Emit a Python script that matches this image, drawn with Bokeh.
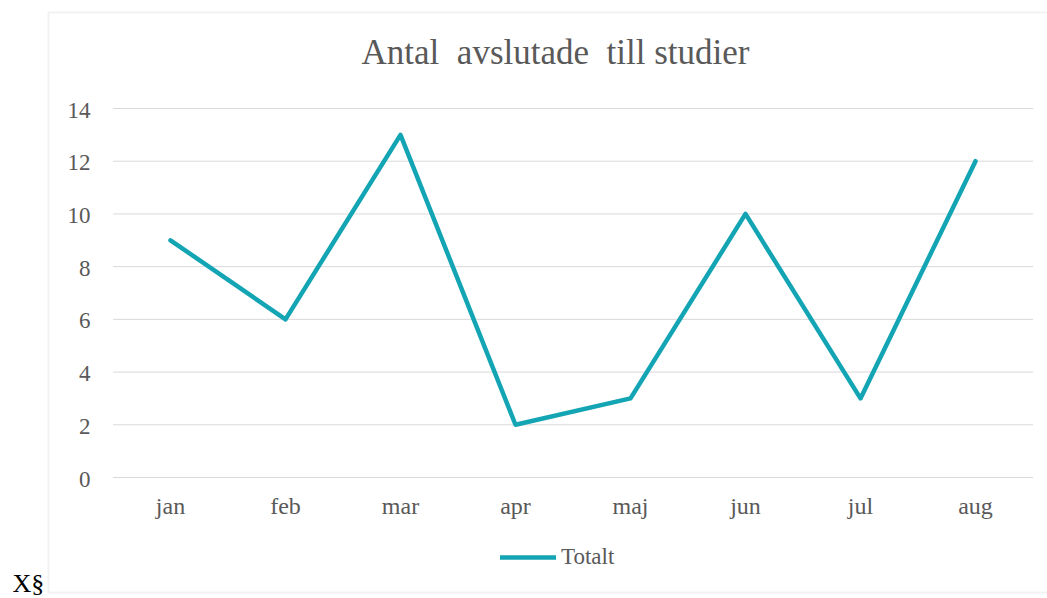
from bokeh.plotting import figure
from bokeh.models import Range1d, Legend, LegendItem, Label, BoxAnnotation, ColumnDataSource
from bokeh.core.properties import value
from bokeh.embed import file_html
from bokeh.resources import INLINE

months = ["jan", "feb", "mar", "apr", "maj", "jun", "jul", "aug"]
totalt = [9, 6, 13, 2, 3, 10, 3, 12]
y_ticks = [0, 2, 4, 6, 8, 10, 12, 14]
title_text = "Antal\u00a0 avslutade\u00a0 till studier"
series_name = "Totalt"
corner_text = "X§"

FONT = "Liberation Serif"
GREY = "#595959"
TEAL = "#14A5B5"
GRID = "#d9d9d9"
BORDER = "#d4d4d4"

W, H = 1047, 598
# frame fills the canvas; ranges chosen so the plot area sits where the reference has it
x_px_per_cat = 115.0
plot_left_px = 112.5
y_px_per_unit = (477 - 108) / 14.0
y0_px = 477.0
x_start = -plot_left_px / x_px_per_cat
x_end = x_start + W / x_px_per_cat
y_end = y0_px / y_px_per_unit
y_start = -(H - y0_px) / y_px_per_unit

p = figure(width=W, height=H, x_range=Range1d(x_start, x_end), y_range=Range1d(y_start, y_end),
           output_backend="svg", toolbar_location=None,
           x_axis_location=None, y_axis_location=None,
           min_border=0, min_border_left=0, min_border_right=0,
           min_border_top=0, min_border_bottom=0)
p.outline_line_color = None
p.background_fill_color = "white"
p.border_fill_color = "white"
p.xgrid.visible = False
p.ygrid.visible = False

n = len(months)
centers = [i + 0.5 for i in range(n)]

# horizontal gridlines across the category bands
grid_src = ColumnDataSource(dict(x0=[0] * len(y_ticks), x1=[n] * len(y_ticks), y=y_ticks,
                                 lab=[str(t) for t in y_ticks]))
p.segment(x0="x0", x1="x1", y0="y", y1="y", source=grid_src, line_color=GRID, line_width=1)

# y tick labels
p.text(x="x0", y="y", text="lab", source=grid_src, text_font=value(FONT),
       text_font_size="23px", text_color=GREY, text_align="right",
       text_baseline="alphabetic", x_offset=-22.5, y_offset=1.5)

# x tick labels
cat_src = ColumnDataSource(dict(x=centers, y=[0] * n, lab=months))
p.text(x="x", y="y", text="lab", source=cat_src, text_font=value(FONT),
       text_font_size="24px", text_color=GREY, text_align="center",
       text_baseline="alphabetic", y_offset=28)

# series
r = p.line(centers, totalt, line_color=TEAL, line_width=4.5, line_join="round", line_cap="round")

legend = Legend(items=[LegendItem(label=series_name, renderers=[r])],
                location=(500, 28), orientation="horizontal",
                label_text_font=FONT, label_text_color=GREY, label_text_font_size="23px",
                glyph_width=56, glyph_height=20, label_standoff=5, padding=0, margin=0,
                border_line_color=None, background_fill_alpha=0)
p.add_layout(legend, "center")

p.add_layout(Label(x=555, y=H - 52, x_units="screen", y_units="screen", text=title_text,
                   text_font=FONT, text_font_size="35px", text_color=GREY,
                   text_align="center", text_baseline="alphabetic"))

p.add_layout(BoxAnnotation(left=48, right=W + 20, top=H - 12, bottom=H - 592,
                           left_units="screen", right_units="screen",
                           top_units="screen", bottom_units="screen",
                           fill_alpha=0, line_color=BORDER, line_width=2))

p.add_layout(Label(x=12, y=H - 583, x_units="screen", y_units="screen", text=corner_text,
                   text_font=FONT, text_font_size="26px", text_color="black",
                   text_align="left", text_baseline="alphabetic"))

open("out.html", "w").write(file_html(p, INLINE))
